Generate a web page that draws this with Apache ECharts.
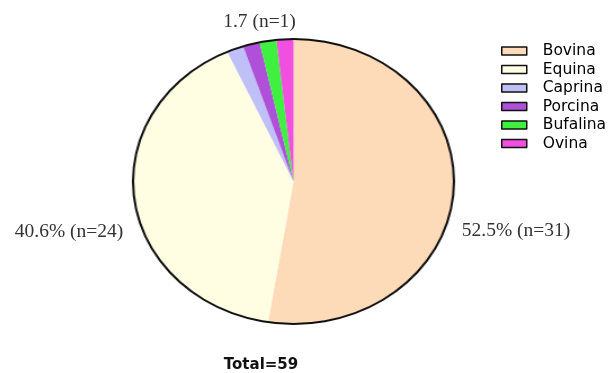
<!DOCTYPE html>
<html>
<head>
<meta charset="utf-8">
<script src="https://cdn.jsdelivr.net/npm/echarts@6/dist/echarts.min.js"></script>
<style>
  html, body { margin: 0; padding: 0; background: #fff; }
  .wrap { position: relative; width: 611px; height: 373px; overflow: hidden; }
  /* pie drawn in its own layer, stretched sideways like the original ellipse */
  #pieLayer {
    position: absolute; left: 0; top: 0; width: 611px; height: 373px;
    transform: scaleX(1.126);
    transform-origin: 293.5px 181.5px;
  }
  #textLayer { position: absolute; left: 0; top: 0; width: 611px; height: 373px; }
</style>
</head>
<body>
<div class="wrap">
  <div id="pieLayer"></div>
  <div id="textLayer"></div>
</div>
<script>
var species = ['Bovina', 'Equina', 'Caprina', 'Porcina', 'Bufalina', 'Ovina']
var counts = [31, 24, 1, 1, 1, 1]
var colors = ['#FDDAB8', '#FFFEE3', '#C0C0F8', '#AE50D8', '#40F040', '#F04FE0']
// labels as printed on the figure (only three slices are labelled)
var labelNames = ['Bovina', 'Equina', 'Caprina']
var labelTexts = ['52.5% (n=31)', '40.6% (n=24)', '1.7 (n=1)']

var total = 0
for (var i = 0; i < counts.length; i++) total += counts[i]

var pieData = species.map(function (s, i) {
  return { name: s, value: counts[i], itemStyle: { color: colors[i] } }
})

var pieChart = echarts.init(document.getElementById('pieLayer'), null, { renderer: 'canvas' })
pieChart.setOption({
  animation: false,
  series: [
    {
      type: 'pie',
      center: [293.5, 181.5],
      radius: [0, 142.5],
      startAngle: 90,
      clockwise: true,
      silent: true,
      label: { show: false },
      labelLine: { show: false },
      itemStyle: { borderWidth: 0 },
      data: pieData
    },
    {
      // black outline round the pie
      type: 'pie',
      center: [293.5, 181.5],
      radius: [141.5, 143.5],
      silent: true,
      label: { show: false },
      labelLine: { show: false },
      itemStyle: { color: '#111', borderWidth: 0 },
      data: [{ name: 'outline', value: total }]
    }
  ]
})

// positions of the three slice labels
var labelPos = {
  Bovina: [516, 231],
  Equina: [69, 232],
  Caprina: [259.5, 22]
}
var labelGraphics = labelNames.map(function (n, i) {
  return {
    type: 'text',
    x: labelPos[n][0],
    y: labelPos[n][1],
    style: {
      text: labelTexts[i],
      fill: '#333',
      font: '19.5px "Liberation Serif", "Times New Roman", serif',
      textAlign: 'center',
      textVerticalAlign: 'middle'
    }
  }
})
labelGraphics.push({
  type: 'text',
  x: 261,
  y: 365,
  style: {
    text: 'Total=' + total,
    fill: '#111',
    font: 'bold 15px "DejaVu Sans", sans-serif',
    textAlign: 'center',
    textVerticalAlign: 'middle'
  }
})

var textChart = echarts.init(document.getElementById('textLayer'), null, { renderer: 'canvas' })
textChart.setOption({
  animation: false,
  legend: {
    orient: 'vertical',
    left: 496,
    top: 38,
    itemWidth: 25,
    itemHeight: 8,
    itemGap: 2.5,
    icon: 'rect',
    selectedMode: false,
    itemStyle: { borderColor: '#111', borderWidth: 1.5 },
    textStyle: {
      color: '#000',
      fontSize: 15.5,
      fontFamily: '"DejaVu Sans", sans-serif',
      padding: [0, 0, 0, 11]
    },
    data: species
  },
  graphic: labelGraphics,
  series: [
    {
      // invisible copy, only feeds the legend
      type: 'pie',
      center: [293.5, 181.5],
      radius: [0, 0],
      silent: true,
      label: { show: false },
      labelLine: { show: false },
      data: pieData
    }
  ]
})
</script>
</body>
</html>
